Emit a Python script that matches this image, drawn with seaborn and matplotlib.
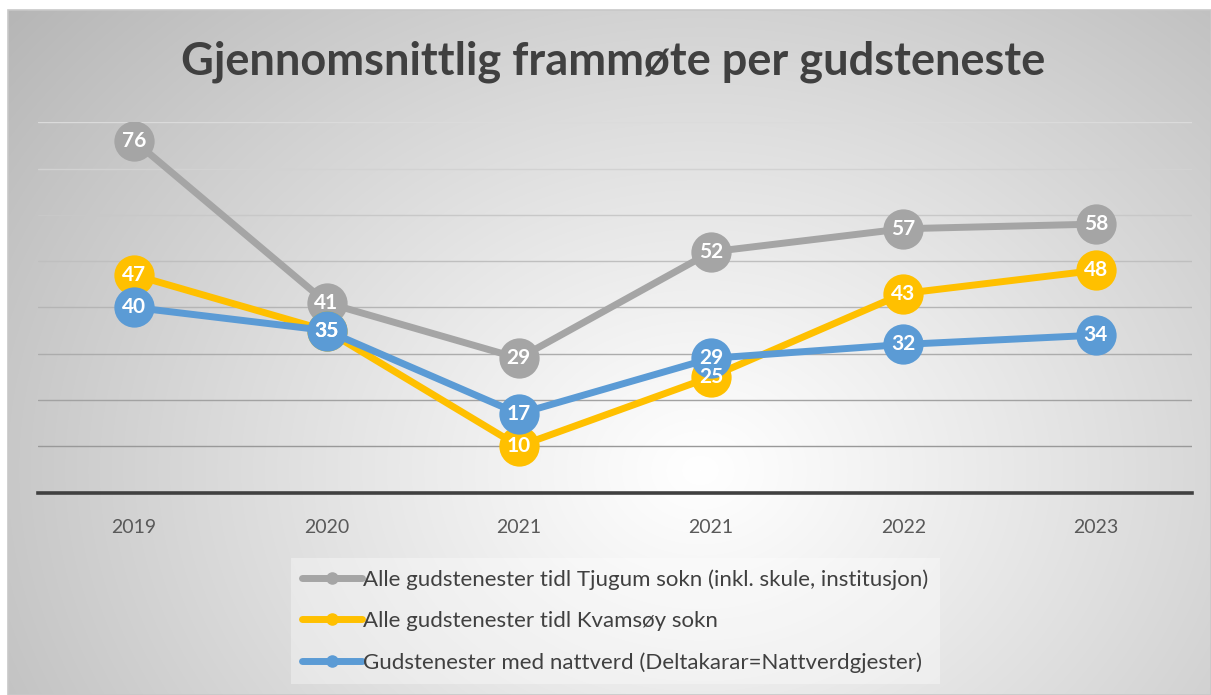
import matplotlib
matplotlib.use("Agg")
import matplotlib.pyplot as plt
import seaborn as sns
import numpy as np
import pandas as pd
from matplotlib.lines import Line2D

# data
years = ["2019", "2020", "2021", "2021", "2022", "2023"]
tjugum = [76, 41, 29, 52, 57, 58]
kvamsoy = [47, 35, 10, 25, 43, 48]
nattverd = [40, 35, 17, 29, 32, 34]
series_names = [
    "Alle gudstenester tidl Tjugum sokn (inkl. skule, institusjon)",
    "Alle gudstenester tidl Kvamsøy sokn",
    "Gudstenester med nattverd (Deltakarar=Nattverdgjester)",
]
colors = ["#A5A5A5", "#FFC000", "#5B9BD5"]

sns.set_style("white")
plt.rcParams["font.family"] = ["Lato", "DejaVu Sans"]

W, H = 1211, 695
fig = plt.figure(figsize=(W / 100, H / 100), dpi=100)

# radial gradient background of the chart box
bg = fig.add_axes([8 / W, 0, 1 - 8 / W, 1 - 10 / H], zorder=-10)
yy, xx = np.mgrid[10:H, 8:W]
d = np.sqrt((xx - 700.0) ** 2 + ((yy - 470.0) * 1.25) ** 2) / 840.0
g = np.clip(255 - 68 * np.clip(d, 0, 1.1) ** 1.1, 0, 255) / 255.0
bg.imshow(np.dstack([g, g, g]), aspect="auto", interpolation="bilinear")
bg.axis("off")
fig.patches.append(plt.Rectangle((8 / W, 0), 1 - 8 / W, 1 - 10 / H, transform=fig.transFigure,
                                 fill=False, edgecolor="#c8c8c8", lw=1.2))

ax = fig.add_axes([38 / W, (H - 492.5) / H, 1154 / W, 370.2 / H])
ax.patch.set_alpha(0)

x = np.arange(len(years))
df = pd.DataFrame({"x": np.tile(x, 3),
                   "value": tjugum + kvamsoy + nattverd,
                   "serie": np.repeat(series_names, len(years))})

for i, (name, col) in enumerate(zip(series_names, colors)):
    sub = df[df["serie"] == name]
    sns.lineplot(data=sub, x="x", y="value", ax=ax, color=col, lw=5,
                 marker="o", markersize=29, markeredgewidth=0, zorder=3 + i,
                 legend=False)

for name in series_names:
    sub = df[df["serie"] == name]
    for xv, v in zip(sub["x"], sub["value"]):
        ax.text(xv, v, str(v), ha="center", va="center", color="white",
                fontsize=15, fontweight="bold", zorder=10)

ax.set_xlim(-0.5, len(years) - 0.5)
ax.set_ylim(0, 80)
ax.set_yticks(np.arange(10, 81, 10))
ax.set_yticklabels([])
ax.yaxis.grid(True, lw=1.0)
for k, gl in enumerate(ax.yaxis.get_gridlines()):
    c = 0.60 + 0.26 * k / 7
    gl.set_color((c, c, c))
ax.set_axisbelow(True)
ax.set_xticks(x)
ax.set_xticklabels(years, fontsize=14, color="#595959")
ax.tick_params(axis="x", length=0, pad=19)
ax.tick_params(axis="y", length=0)
for s in ["top", "left", "right"]:
    ax.spines[s].set_visible(False)
ax.spines["bottom"].set_color("#404040")
ax.spines["bottom"].set_linewidth(2.6)
ax.set_xlabel("")
ax.set_ylabel("")

fig.text(613 / W, 1 - 62 / H, "Gjennomsnittlig frammøte per gudsteneste",
         ha="center", va="center", fontsize=32.5, fontweight="bold", color="#404040")

handles = [Line2D([0], [0], color=c, lw=5, marker="o", markersize=8) for c in colors]
leg = fig.legend(handles, series_names, loc="center left",
                 bbox_to_anchor=(280 / W, (H - 621) / H), fontsize=16,
                 handlelength=2.7, handletextpad=0.05, labelspacing=0.95,
                 frameon=True, facecolor="white", edgecolor="none", framealpha=0.35,
                 fancybox=False, borderpad=0.5)
for t in leg.get_texts():
    t.set_color("#404040")

fig.savefig("out.png", dpi=100)
